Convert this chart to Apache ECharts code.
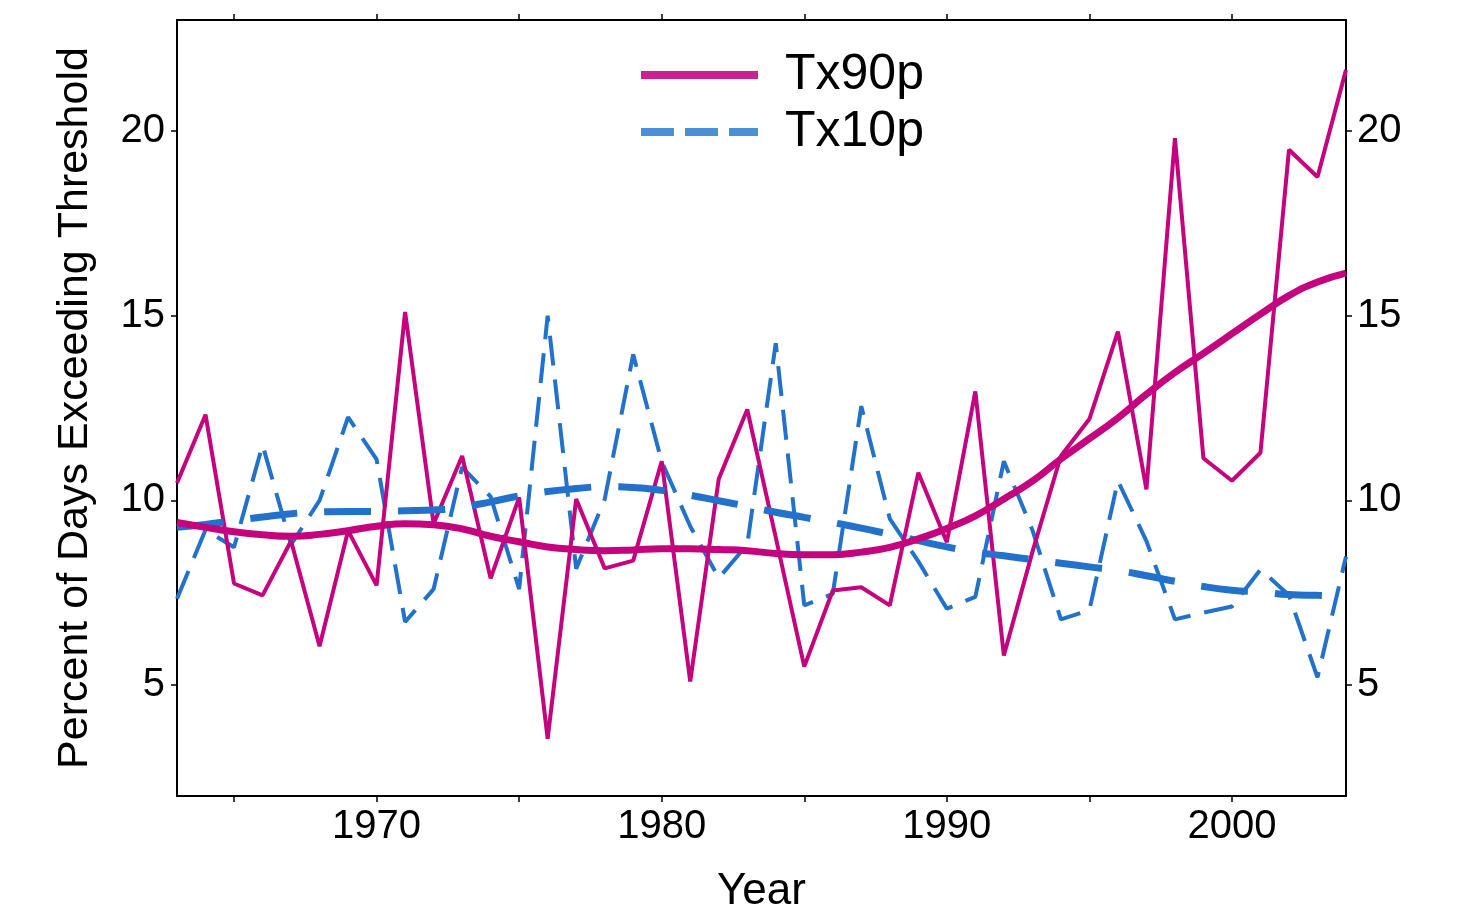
<!DOCTYPE html>
<html>
<head>
<meta charset="utf-8">
<script src="https://cdn.jsdelivr.net/npm/echarts@6/dist/echarts.min.js"></script>
<style>
html,body{margin:0;padding:0;background:#ffffff;}
#chart{width:1464px;height:919px;}
</style>
</head>
<body>
<div id="chart"></div>
<script>
// ---- data ----
const years = ['1963','1964','1965','1966','1967','1968','1969','1970','1971','1972',
  '1973','1974','1975','1976','1977','1978','1979','1980','1981','1982',
  '1983','1984','1985','1986','1987','1988','1989','1990','1991','1992',
  '1993','1994','1995','1996','1997','1998','1999','2000','2001','2002',
  '2003','2004'];

const tx90pRaw = [10.47, 12.32, 7.75, 7.43, 8.9, 6.05, 9.18, 7.7, 15.1, 9.37,
  11.2, 7.89, 10.08, 3.55, 10.04, 8.16, 8.37, 11.06, 5.1, 10.58,
  12.46, 9.0, 5.5, 7.56, 7.65, 7.16, 10.75, 8.87, 12.95, 5.8,
  8.6, 11.2, 12.2, 14.57, 10.3, 19.8, 11.14, 10.53, 11.29, 19.49,
  18.75, 21.65];

const tx90pSmooth = [9.40, 9.27, 9.15, 9.07, 9.03, 9.08, 9.18, 9.30, 9.37, 9.34,
  9.23, 9.03, 8.88, 8.74, 8.67, 8.64, 8.66, 8.69, 8.69, 8.67,
  8.64, 8.56, 8.53, 8.53, 8.60, 8.73, 8.96, 9.24, 9.58, 10.04,
  10.52, 11.12, 11.67, 12.23, 12.87, 13.46, 13.98, 14.51, 15.04, 15.54,
  15.91, 16.15];

const tx10pRaw = [7.34, 9.2, 8.73, 11.5, 8.8, 10.0, 12.25, 11.11, 6.71, 7.6,
  10.9, 10.1, 7.6, 15.0, 8.15, 10.03, 13.95, 11.05, 9.3, 7.9,
  8.8, 14.25, 7.16, 7.47, 12.55, 9.5, 8.35, 7.07, 7.39, 11.06,
  9.2, 6.78, 7.03, 10.53, 8.9, 6.78, 6.96, 7.13, 8.13, 7.43,
  5.21, 8.48];

const tx10pSmooth = [9.27, 9.35, 9.45, 9.55, 9.64, 9.69, 9.70, 9.70, 9.72, 9.74,
  9.82, 9.96, 10.12, 10.24, 10.32, 10.37, 10.35, 10.27, 10.14, 9.99,
  9.84, 9.68, 9.54, 9.40, 9.25, 9.08, 8.91, 8.74, 8.60, 8.50,
  8.40, 8.30, 8.20, 8.10, 7.96, 7.81, 7.67, 7.57, 7.52, 7.45,
  7.43, 7.42];

const yTickValues = [5, 10, 15, 20];
const xTickYears = ['1965','1970','1975','1980','1985','1990','1995','2000'];
const xLabelYears = ['1970','1980','1990','2000'];

const magenta = '#c6037e';
const blue = '#2272cb';
const font = 'Liberation Sans';

const chart = echarts.init(document.getElementById('chart'), null, {renderer: 'canvas'});

const axisLineStyle = {color: '#000', width: 2};

const option = {
  animation: false,
  backgroundColor: '#ffffff',
  grid: {left: 177, right: 118, top: 20, bottom: 119, containLabel: false},
  legend: {
    orient: 'vertical',
    left: 637,
    top: 50,
    padding: 0,
    itemWidth: 117,
    itemHeight: 8,
    itemGap: 7,
    itemStyle: {color: 'rgba(0,0,0,0)', borderWidth: 0, opacity: 0},
    textStyle: {fontSize: 50, fontFamily: font, color: '#000', lineHeight: 50, padding: [0, 0, 0, 22]},
    data: [
      {name: 'Tx90p', lineStyle: {width: 8, type: 'solid', color: '#d01f8e'}},
      {name: 'Tx10p', lineStyle: {width: 8, type: [33, 11], color: '#4a8fd8'}}
    ]
  },
  xAxis: [
    {
      type: 'category',
      data: years,
      boundaryGap: false,
      position: 'bottom',
      name: 'Year',
      nameLocation: 'middle',
      nameGap: 74,
      nameTextStyle: {fontSize: 44, fontFamily: font, color: '#000'},
      axisLine: {show: true, lineStyle: axisLineStyle},
      axisTick: {show: true, inside: false, length: 6, lineStyle: {color: '#000', width: 1.5},
        interval: (i, v) => xTickYears.includes(v)},
      axisLabel: {show: true, fontSize: 40, fontFamily: font, color: '#000', margin: 11,
        interval: (i, v) => xLabelYears.includes(v)},
      splitLine: {show: false}
    },
    {
      type: 'category',
      data: years,
      boundaryGap: false,
      position: 'top',
      axisLine: {show: true, lineStyle: axisLineStyle},
      axisTick: {show: true, inside: false, length: 6, lineStyle: {color: '#000', width: 1.5},
        interval: (i, v) => xTickYears.includes(v)},
      axisLabel: {show: false},
      splitLine: {show: false}
    }
  ],
  yAxis: [
    {
      type: 'value',
      min: 2,
      max: 23,
      position: 'left',
      name: 'Percent of Days Exceeding Threshold',
      nameLocation: 'middle',
      nameGap: 80,
      nameTextStyle: {fontSize: 43, fontFamily: font, color: '#000'},
      axisLine: {show: true, lineStyle: axisLineStyle},
      axisTick: {show: true, inside: false, length: 6, lineStyle: {color: '#000', width: 1.5},
        customValues: yTickValues},
      axisLabel: {show: true, fontSize: 40, fontFamily: font, color: '#000', margin: 12,
        customValues: yTickValues, padding: [14, 0, 0, 0]},
      splitLine: {show: false}
    },
    {
      type: 'value',
      min: 2,
      max: 23,
      position: 'right',
      axisLine: {show: true, lineStyle: axisLineStyle},
      axisTick: {show: true, inside: false, length: 6, lineStyle: {color: '#000', width: 1.5},
        customValues: yTickValues},
      axisLabel: {show: true, fontSize: 40, fontFamily: font, color: '#000', margin: 11,
        customValues: yTickValues, padding: [14, 0, 0, 0]},
      splitLine: {show: false}
    }
  ],
  series: [
    {
      name: 'Tx10p', type: 'line', data: tx10pRaw, xAxisIndex: 0, yAxisIndex: 0,
      symbol: 'none', showSymbol: false, color: blue,
      lineStyle: {color: blue, width: 4, type: [30, 14]}, z: 2
    },
    {
      name: 'Tx90p', type: 'line', data: tx90pRaw, xAxisIndex: 0, yAxisIndex: 0,
      symbol: 'none', showSymbol: false, color: magenta,
      lineStyle: {color: magenta, width: 4}, z: 3
    },
    {
      name: 'Tx10p', type: 'line', data: tx10pSmooth, xAxisIndex: 0, yAxisIndex: 0,
      symbol: 'none', showSymbol: false, smooth: true, color: blue,
      lineStyle: {color: blue, width: 7, type: [47, 27]}, z: 4
    },
    {
      name: 'Tx90p', type: 'line', data: tx90pSmooth, xAxisIndex: 0, yAxisIndex: 0,
      symbol: 'none', showSymbol: false, smooth: true, color: magenta,
      lineStyle: {color: magenta, width: 7}, z: 5
    }
  ]
};

chart.setOption(option);
</script>
</body>
</html>
